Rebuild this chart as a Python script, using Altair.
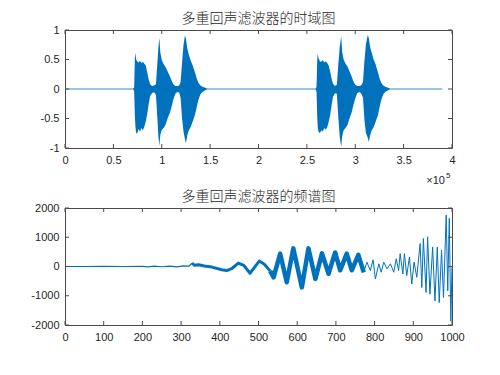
import altair as alt
import pandas as pd

# ---------------- data ----------------
# Top panel: time-domain signal (x in units of 1e5 samples), envelope
t_x = [0.705, 0.715, 0.722, 0.728, 0.735, 0.745, 0.76, 0.775, 0.79, 0.805, 0.82, 0.835, 0.85, 0.865, 0.88, 0.90, 0.92, 0.94,
       0.955, 0.965, 0.975, 0.985, 1.00, 1.02, 1.04, 1.06, 1.085, 1.105, 1.12, 1.14, 1.16, 1.18, 1.195,
       1.21, 1.225, 1.24, 1.25, 1.265, 1.28, 1.30, 1.32, 1.345, 1.365, 1.38, 1.40, 1.42, 1.45, 1.47,
       2.59, 2.60, 2.607, 2.613, 2.62, 2.635, 2.65, 2.665, 2.68, 2.695, 2.71, 2.725, 2.74, 2.755, 2.77, 2.79, 2.81,
       2.825, 2.84, 2.855, 2.865, 2.88, 2.90, 2.92, 2.94, 2.963, 2.98, 3.00, 3.02, 3.04, 3.06, 3.08,
       3.095, 3.11, 3.13, 3.14, 3.155, 3.17, 3.19, 3.21, 3.235, 3.255, 3.27, 3.29, 3.31, 3.34, 3.36]
t_hi = [0.00, 0.03, 0.52, 0.61, 0.50, 0.47, 0.45, 0.48, 0.44, 0.46, 0.43, 0.40, 0.28, 0.16, 0.08, 0.05, 0.06, 0.08,
        0.45, 0.70, 0.87, 0.62, 0.49, 0.42, 0.37, 0.30, 0.21, 0.13, 0.08, 0.05, 0.05, 0.06, 0.12,
        0.45, 0.75, 0.91, 0.85, 0.68, 0.58, 0.48, 0.40, 0.27, 0.16, 0.10, 0.06, 0.04, 0.02, 0.00,
        0.00, 0.04, 0.50, 0.60, 0.52, 0.47, 0.46, 0.49, 0.45, 0.47, 0.44, 0.40, 0.30, 0.18, 0.09, 0.05, 0.07,
        0.42, 0.72, 0.89, 0.63, 0.50, 0.43, 0.38, 0.30, 0.21, 0.13, 0.07, 0.05, 0.05, 0.06, 0.12,
        0.48, 0.76, 0.92, 0.86, 0.70, 0.62, 0.50, 0.42, 0.28, 0.16, 0.10, 0.06, 0.04, 0.02, 0.00]
t_lo = [0.00, -0.04, -0.45, -0.64, -0.74, -0.76, -0.68, -0.72, -0.66, -0.70, -0.64, -0.55, -0.42, -0.25, -0.12, -0.07, -0.05, -0.10,
        -0.50, -0.80, -0.96, -0.78, -0.69, -0.66, -0.60, -0.50, -0.40, -0.28, -0.18, -0.08, -0.05, -0.06, -0.15,
        -0.50, -0.72, -0.85, -0.92, -0.78, -0.70, -0.64, -0.55, -0.43, -0.28, -0.18, -0.09, -0.05, -0.02, 0.00,
        0.00, -0.05, -0.48, -0.66, -0.72, -0.75, -0.70, -0.72, -0.66, -0.69, -0.65, -0.56, -0.45, -0.28, -0.13, -0.07, -0.08,
        -0.48, -0.82, -0.98, -0.80, -0.70, -0.66, -0.61, -0.50, -0.40, -0.28, -0.16, -0.07, -0.05, -0.07, -0.15,
        -0.52, -0.74, -0.83, -0.90, -0.78, -0.70, -0.65, -0.56, -0.44, -0.28, -0.18, -0.09, -0.05, -0.02, 0.00]
zero_x = [0.0, 3.9]
zero_y = [0.0, 0.0]

# Bottom panel: spectrum
s1_x = [0, 50, 100, 150, 200, 215, 230, 250, 270, 290, 305, 320, 328]
s1_y = [0, 0, 2, 0, 5, -10, 12, -8, 15, -12, 20, 10, 115]
s2_x = [328, 335, 345, 360, 380, 405, 418, 432, 448, 462, 478, 490, 502, 515, 530]
s2_y = [115, 40, 60, 20, -20, -110, -140, -60, 115, 40, -230, -20, 185, 80, -150]
s3_x = [530, 539, 556, 573, 590, 612, 629, 647, 664, 681, 698, 711, 728, 741, 758, 772]
s3_y = [-150, -370, 440, -540, 620, -715, 620, -425, 450, -250, 480, -130, 440, -130, 400, -200]
s4_x = [772, 780, 789, 796, 802, 811, 817, 823.5, 832, 841, 849.5, 856, 862, 866, 873, 877, 883, 890, 896, 902, 909,
        917.6, 922, 926, 933, 937, 943, 950, 956, 962, 967, 973, 978, 985, 989, 993, 997, 1000]
s4_y = [-200, 150, -138, 230, -427, 92, -196, 150, -81, 92, -196, 265, -138, 438, -254, 438, -311, 323, -600, 150, -369,
        784, -715, 957, -888, 1015, -945, 669, -1176, 669, -1234, 553, -1061, 1764, -830, 1649, -1868, -23]

top_xticks = [0, 0.5, 1, 1.5, 2, 2.5, 3, 3.5, 4]
top_yticks = [-1, -0.5, 0, 0.5, 1]
bot_xticks = [0, 100, 200, 300, 400, 500, 600, 700, 800, 900, 1000]
bot_yticks = [-2000, -1000, 0, 1000, 2000]
top_title = "多重回声滤波器的时域图"
bot_title = "多重回声滤波器的频谱图"
exp_base = ["×10"]
exp_power = ["5"]

# ---------------- style ----------------
W, H1, H2 = 387, 118, 117
BLUE = "#0072BD"
FRAME = "#4a4a4a"
LABEL = "#262626"
TICK = 4


def axis(vals):
    return alt.Axis(values=vals, labelExpr="'' + datum.value", ticks=False, domain=False, grid=False,
                    labelPadding=6, labelFont="Liberation Sans", labelFontSize=11, labelColor=LABEL,
                    labelFlush=False, labelOverlap=False, title=None)


def tick_layers(xt, yt, xs, ys, h):
    lay = []
    dx = pd.DataFrame({"t": xt})
    dy = pd.DataFrame({"t": yt})
    for y0, y1 in [(0, TICK), (h, h - TICK)]:
        lay.append(alt.Chart(dx).mark_rule(color=FRAME, strokeWidth=1).encode(
            x=alt.X("t:Q", scale=xs, axis=axis(xt)), y=alt.value(y0), y2=alt.value(y1)))
    for x0, x1 in [(0, TICK), (W, W - TICK)]:
        lay.append(alt.Chart(dy).mark_rule(color=FRAME, strokeWidth=1).encode(
            y=alt.Y("t:Q", scale=ys, axis=axis(yt)), x=alt.value(x0), x2=alt.value(x1)))
    return lay


def title(txt):
    return alt.TitleParams(txt, font="Noto Sans CJK SC", fontSize=14, fontWeight=300, color="#262626",
                           offset=-2, anchor="middle")


# ---------------- top panel ----------------
xs1 = alt.Scale(domain=[0, 4], nice=False, zero=False)
ys1 = alt.Scale(domain=[-1, 1], nice=False, zero=False)

zero_line = alt.Chart(pd.DataFrame({"x": zero_x, "y": zero_y})).mark_line(
    color=BLUE, strokeWidth=1, opacity=0.8).encode(
    x=alt.X("x:Q", scale=xs1, axis=axis(top_xticks)),
    y=alt.Y("y:Q", scale=ys1, axis=axis(top_yticks)))

env = alt.Chart(pd.DataFrame({"x": t_x, "hi": t_hi, "lo": t_lo})).mark_area(
    color=BLUE, opacity=1).encode(
    x=alt.X("x:Q", scale=xs1, axis=axis(top_xticks)),
    y=alt.Y("hi:Q", scale=ys1, axis=axis(top_yticks)),
    y2="lo:Q")

exp1 = alt.Chart(pd.DataFrame({"s": exp_base})).mark_text(
    font="Liberation Sans", fontSize=11, color=LABEL, align="right", baseline="alphabetic").encode(
    text="s:N", x=alt.value(W - 7), y=alt.value(H1 + 36))
exp2 = alt.Chart(pd.DataFrame({"s": exp_power})).mark_text(
    font="Liberation Sans", fontSize=8, color=LABEL, align="left", baseline="alphabetic").encode(
    text="s:N", x=alt.value(W - 6), y=alt.value(H1 + 30))

top = alt.layer(zero_line, env, *tick_layers(top_xticks, top_yticks, xs1, ys1, H1), exp1, exp2).properties(
    width=W, height=H1, title=title(top_title))

# ---------------- bottom panel ----------------
xs2 = alt.Scale(domain=[0, 1000], nice=False, zero=False)
ys2 = alt.Scale(domain=[-2000, 2000], nice=False, zero=False)


def seg(xv, yv, width, interp):
    return alt.Chart(pd.DataFrame({"f": xv, "v": yv})).mark_line(
        color=BLUE, strokeWidth=width, interpolate=interp, strokeJoin="round").encode(
        x=alt.X("f:Q", scale=xs2, axis=axis(bot_xticks)),
        y=alt.Y("v:Q", scale=ys2, axis=axis(bot_yticks)))


bottom = alt.layer(
    seg(s1_x, s1_y, 1.2, "linear"),
    seg(s2_x, s2_y, 3, "linear"),
    seg(s3_x, s3_y, 4.5, "linear"),
    seg(s4_x, s4_y, 1, "linear"),
    *tick_layers(bot_xticks, bot_yticks, xs2, ys2, H2)).properties(
    width=W, height=H2, title=title(bot_title))

chart = alt.vconcat(top, bottom, spacing=2).properties(
    padding={"left": 22, "top": 3, "right": 5, "bottom": 5}
).configure_view(stroke=FRAME, strokeWidth=1)

chart.save("out.html", embed_options={"renderer": "svg", "actions": False})
